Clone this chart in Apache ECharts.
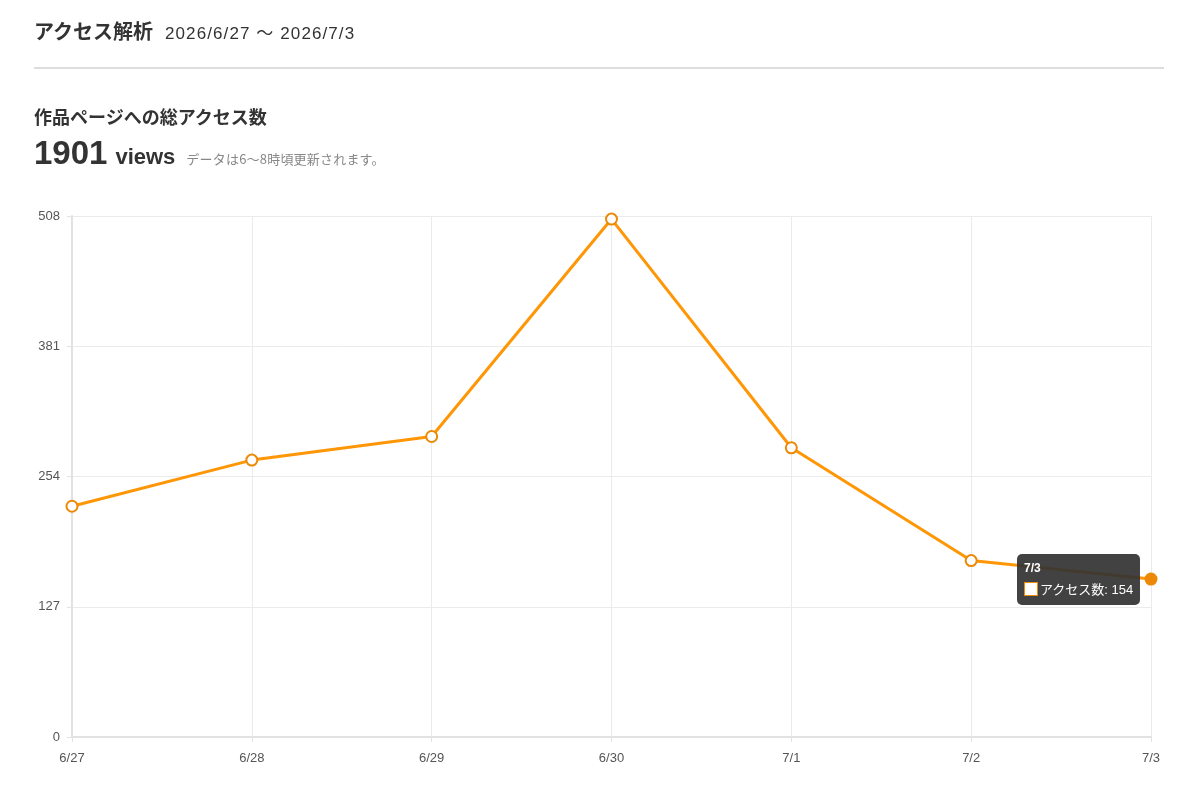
<!DOCTYPE html>
<html>
<head>
<meta charset="utf-8">
<script src="https://cdn.jsdelivr.net/npm/echarts@6/dist/echarts.min.js"></script>
<style>
  html,body{margin:0;padding:0;background:#fff;width:1200px;height:800px;overflow:hidden;font-family:"Liberation Sans","Noto Sans CJK JP",sans-serif;color:#333;}
  #chart{position:absolute;left:0;top:0;width:1200px;height:800px;}
  .h1{position:absolute;left:34px;top:16px;font-family:"Noto Sans CJK JP",sans-serif;font-weight:bold;font-size:20px;color:#333;white-space:nowrap;}
  .h1 .date{font-family:"Liberation Sans","Noto Sans CJK JP",sans-serif;font-weight:normal;font-size:17px;margin-left:12px;color:#333;letter-spacing:1.1px;}
  .hr{position:absolute;left:34px;top:67px;width:1130px;height:2px;background:#ddd;}
  .h2{position:absolute;left:34px;top:103px;font-family:"Noto Sans CJK JP",sans-serif;font-weight:bold;font-size:18px;color:#333;white-space:nowrap;}
  .total{position:absolute;left:34px;top:134px;white-space:nowrap;color:#333;}
  .total .num{font-family:"Liberation Sans",sans-serif;font-size:33px;font-weight:bold;}
  .total .unit{font-family:"Liberation Sans",sans-serif;font-size:22px;font-weight:bold;margin-left:8px;}
  .total .note{font-family:"Noto Sans CJK JP",sans-serif;font-size:13px;color:#888;margin-left:11px;letter-spacing:0.2px;}
</style>
</head>
<body>
<div id="chart"></div>
<div class="h1">アクセス解析<span class="date">2026/6/27 ～ 2026/7/3</span></div>
<div class="hr"></div>
<div class="h2">作品ページへの総アクセス数</div>
<div class="total"><span class="num">1901</span><span class="unit">views</span><span class="note">データは6〜8時頃更新されます。</span></div>
<script>
const categories = ["6/27","6/28","6/29","6/30","7/1","7/2","7/3"];
const seriesName = "アクセス数";
const values = [225, 270, 293, 505, 282, 172, 154];
const yTicks = [0, 127, 254, 381, 508];

const lineColor = "#ec8906";
const chart = echarts.init(document.getElementById('chart'));
chart.setOption({
  animation: false,
  grid: {left: 72, right: 49, top: 216, bottom: 63},
  tooltip: {
    trigger: 'item',
    triggerOn: 'none',
    alwaysShowContent: true,
    backgroundColor: 'rgba(50,50,50,0.92)',
    borderWidth: 0,
    padding: [6, 7, 6, 7],
    extraCssText: 'border-radius:5px;box-shadow:none;',
    textStyle: {color: '#fff', fontSize: 13, fontFamily: '"Liberation Sans","Noto Sans CJK JP",sans-serif'},
    position: function (pt) { return [pt[0] - 134, pt[1] - 25]; },
    formatter: function (p) {
      return '<div style="font-weight:bold;line-height:16px;font-size:12px;">' + p.name + '</div>' +
        '<div style="line-height:18px;margin-top:5px;"><span style="display:inline-block;width:12px;height:12px;background:#fff;border:1px solid ' + lineColor + ';vertical-align:-2px;margin-right:2px;"></span>' +
        p.seriesName + ': ' + p.value + '</div>';
    }
  },
  xAxis: {
    type: 'category',
    data: categories,
    boundaryGap: false,
    axisLine: {lineStyle: {color: '#e2e2e2', width: 2}},
    axisTick: {show: true, lineStyle: {color: '#e2e2e2'}, length: 5},
    axisLabel: {color: '#555', fontSize: 13, margin: 15, fontFamily: '"Liberation Sans",sans-serif'},
    splitLine: {show: true, lineStyle: {color: '#ebebeb', width: 1}}
  },
  yAxis: {
    type: 'value',
    min: yTicks[0],
    max: yTicks[yTicks.length - 1],
    interval: yTicks[1] - yTicks[0],
    axisLine: {show: true, lineStyle: {color: '#e2e2e2', width: 2}},
    axisTick: {show: true, lineStyle: {color: '#e2e2e2'}, length: 5},
    axisLabel: {color: '#555', fontSize: 13, margin: 12, fontFamily: '"Liberation Sans",sans-serif'},
    splitLine: {show: true, lineStyle: {color: '#ebebeb', width: 1}}
  },
  series: [{
    name: seriesName,
    type: 'line',
    data: values,
    symbol: 'emptyCircle',
    symbolSize: 11,
    lineStyle: {color: lineColor, width: 3},
    itemStyle: {color: lineColor, borderColor: lineColor, borderWidth: 1.5},
    emphasis: {scale: false, itemStyle: {color: lineColor, borderColor: lineColor}}
  }]
});
chart.dispatchAction({type: 'highlight', seriesIndex: 0, dataIndex: 6});
chart.dispatchAction({type: 'showTip', seriesIndex: 0, dataIndex: 6});
</script>
</body>
</html>
